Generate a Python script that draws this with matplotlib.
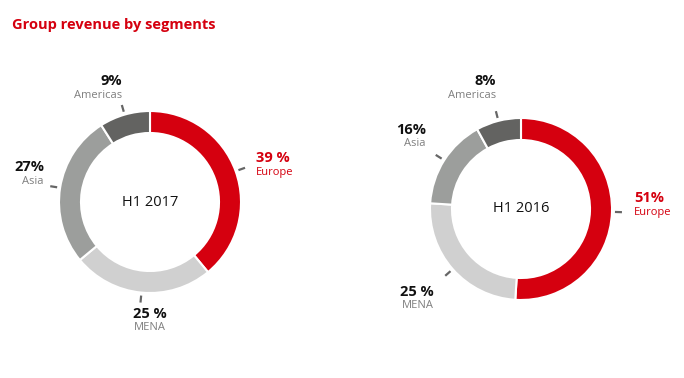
import matplotlib.pyplot as plt
import numpy as np

plt.rcParams['font.family'] = ['Open Sans', 'DejaVu Sans']

segments = ['Europe', 'MENA', 'Asia', 'Americas']
share_2017 = [39, 25, 27, 9]
share_2016 = [51, 25, 16, 8]
pct_2017 = ['39 %', '25 %', '27%', '9%']
pct_2016 = ['51%', '25 %', '16%', '8%']
colors = ['#d5000f', '#d0d0d0', '#9c9e9c', '#636361']
red = '#d5000f'

W, H = 684, 378
fig = plt.figure(figsize=(W / 100, H / 100), dpi=100)
ax = fig.add_axes([0, 0, 1, 1])


def donut(vals, center, title, pcts, spots):
    cx, cy = center
    ax.pie(vals, colors=colors, startangle=90, counterclock=False,
           center=(cx, cy), radius=91, frame=True,
           wedgeprops=dict(width=22, edgecolor='white', linewidth=1.5))
    ax.text(cx, cy, title, ha='center', va='center', fontsize=10.5, color='#111111')
    # little pointer dashes at mid angle of each slice
    cum = np.cumsum([0] + list(vals))
    for i, v in enumerate(vals):
        ang = np.deg2rad(90 - (cum[i] + v / 2) * 3.6)
        r0, r1 = 94, 101
        ax.plot([cx + r0 * np.cos(ang), cx + r1 * np.cos(ang)],
                [cy + r0 * np.sin(ang), cy + r1 * np.sin(ang)],
                color='#666666', lw=1.6, solid_capstyle='butt')
    for i, seg in enumerate(segments):
        x, y, ha = spots[i]
        c1 = red if seg == 'Europe' else '#111111'
        c2 = red if seg == 'Europe' else '#7f7f7f'
        ax.text(x, H - y, pcts[i], ha=ha, va='center', fontsize=10.5,
                fontweight='bold', color=c1)
        ax.text(x, H - y - 14, seg, ha=ha, va='center', fontsize=8, color=c2)


donut(share_2017, (150, H - 202), 'H1 2017', pct_2017,
      [(256, 158, 'left'), (150, 314, 'center'), (44, 167, 'right'), (122, 81, 'right')])
donut(share_2016, (521, H - 209), 'H1 2016', pct_2016,
      [(634, 198, 'left'), (434, 292, 'right'), (426, 130, 'right'), (496, 81, 'right')])

ax.set_xlim(0, W)
ax.set_ylim(0, H)
ax.set_aspect('equal')
ax.axis('off')

fig.text(12 / W, 1 - 25 / H, 'Group revenue by segments', ha='left', va='center',
         fontsize=10.5, fontweight='bold', color=red)

fig.savefig('out.png', dpi=100)
